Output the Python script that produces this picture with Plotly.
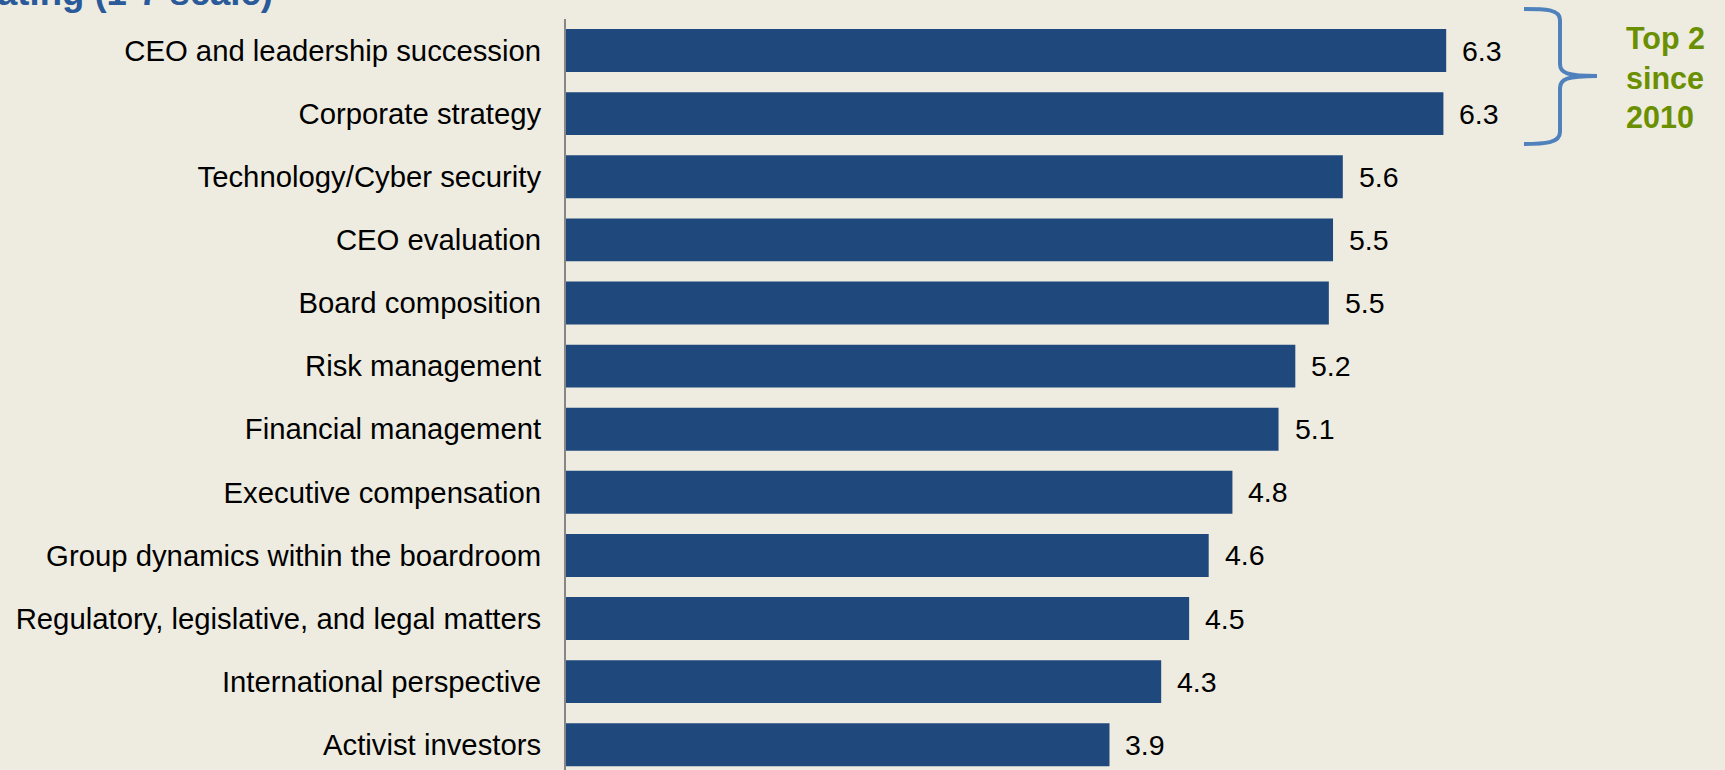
import plotly.graph_objects as go

categories = [
    "CEO and leadership succession",
    "Corporate strategy",
    "Technology/Cyber security",
    "CEO evaluation",
    "Board composition",
    "Risk management",
    "Financial management",
    "Executive compensation",
    "Group dynamics within the boardroom",
    "Regulatory, legislative, and legal matters",
    "International perspective",
    "Activist investors",
]
values = [6.30, 6.28, 5.56, 5.49, 5.46, 5.22, 5.10, 4.77, 4.60, 4.46, 4.26, 3.89]
value_labels = ["6.3", "6.3", "5.6", "5.5", "5.5", "5.2", "5.1", "4.8", "4.6", "4.5", "4.3", "3.9"]

title_text = "Average rating (1-7 scale)"
note_text = "Top 2<br>since<br>2010"

W, H = 1725, 770
L, R, T, B = 566, 181, 19, 0
XMAX = 7.0
BG = "#EEECE1"
BAR = "#1F497D"

pw = W - L - R
ph = H - T - B


def px2paper_x(px):
    return (px - L) / pw


def px2paper_y(py):
    return (H - B - py) / ph


fig = go.Figure()
fig.add_trace(go.Bar(
    x=values, y=categories, orientation="h",
    marker=dict(color=BAR, line=dict(width=0)),
    width=0.68, hoverinfo="skip",
))

annotations = []
for c, v, lab in zip(categories, values, value_labels):
    annotations.append(dict(
        x=v, y=c, xref="x", yref="y", text=lab, showarrow=False,
        xanchor="left", yanchor="middle", xshift=14,
        font=dict(family="Liberation Sans, Arial", size=28.5, color="#000000"),
    ))

# Title (clipped at top-left like the reference)
annotations.append(dict(
    x=px2paper_x(275), y=px2paper_y(15), xref="paper", yref="paper",
    text="<b>" + title_text + "</b>", showarrow=False,
    xanchor="right", yanchor="bottom",
    font=dict(family="Liberation Sans, Arial", size=36.5, color="#2A5A9A"),
))

# Green note
annotations.append(dict(
    x=px2paper_x(1624), y=px2paper_y(77), xref="paper", yref="paper",
    text="<b>" + note_text + "</b>", showarrow=False, align="left",
    xanchor="left", yanchor="middle",
    font=dict(family="Liberation Sans, Arial", size=30.5, color="#6A8F00"),
))

# Curly brace path (pixel -> paper)
def P(x, y):
    return f"{px2paper_x(x):.5f},{px2paper_y(y):.5f}"

brace = (
    f"M {P(1524, 9)} "
    f"C {P(1545, 9)} {P(1560, 9)} {P(1560, 20)} "
    f"L {P(1560, 64)} "
    f"C {P(1560, 73)} {P(1567, 76)} {P(1597, 76)} "
    f"C {P(1567, 76)} {P(1560, 79)} {P(1560, 88)} "
    f"L {P(1560, 132)} "
    f"C {P(1560, 143)} {P(1545, 144)} {P(1524, 144)}"
)

fig.update_layout(
    width=W, height=H,
    margin=dict(l=L, r=R, t=T, b=B, pad=0),
    paper_bgcolor=BG, plot_bgcolor=BG,
    showlegend=False,
    annotations=annotations,
    shapes=[dict(type="path", path=brace, xref="paper", yref="paper",
                 line=dict(color="#4F81BD", width=4))],
    xaxis=dict(range=[0, XMAX], visible=False, fixedrange=True),
    yaxis=dict(
        type="category", range=[11.40, -0.5],
        showgrid=False, zeroline=False,
        showline=True, linecolor="#868686", linewidth=2,
        ticks="", ticklabelstandoff=17,
        tickfont=dict(family="Liberation Sans, Arial", size=29.3, color="#000000"),
        fixedrange=True,
    ),
    bargap=0.32,
)

fig.write_html(
    "out.html",
    config={"displayModeBar": False},
    post_script="document.body.style.margin='0';document.body.style.background='" + BG + "';",
)
